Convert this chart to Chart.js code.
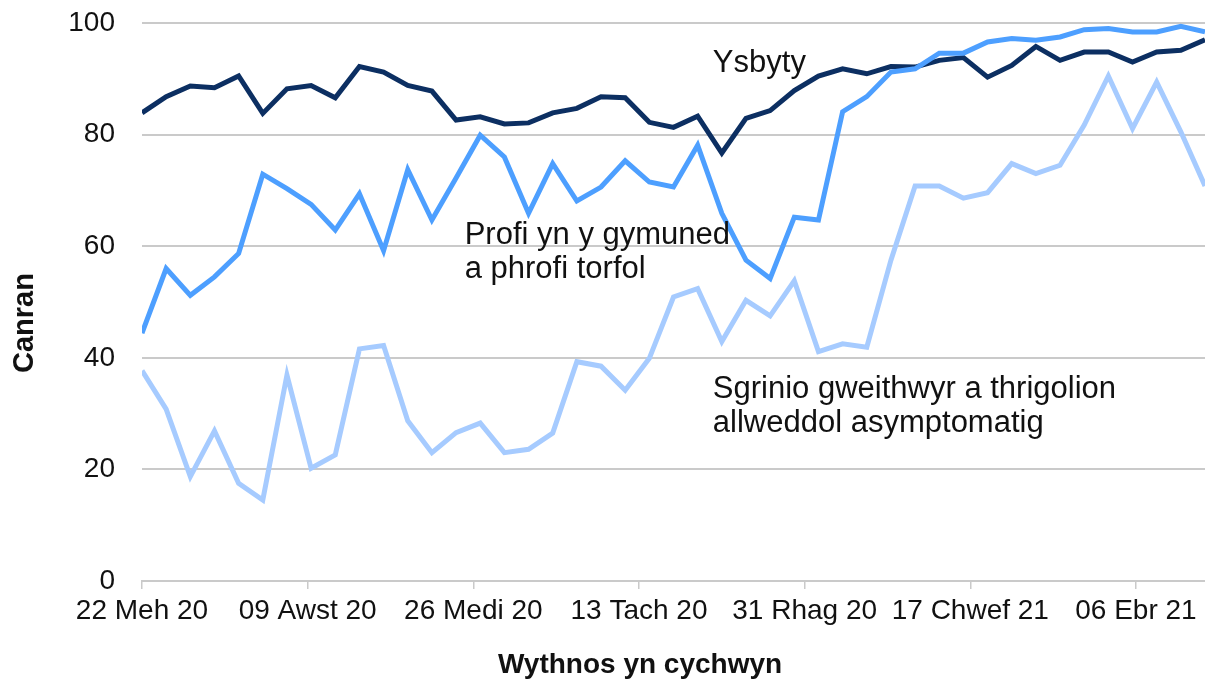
<!DOCTYPE html>
<html>
<head>
<meta charset="utf-8">
<title>Canran</title>
<script src="https://cdn.jsdelivr.net/npm/chart.js@4.4.0/dist/chart.umd.min.js"></script>
<style>
  html, body { margin: 0; padding: 0; background: #fff; }
  #wrap { width: 1205px; height: 680px; position: relative; }
</style>
</head>
<body>
<div id="wrap"><canvas id="chart"></canvas></div>
<script>
// weekly points, week 0 = 22 Meh 20 (x is in days from that date)
const weekIndex = [...Array(45).keys()];

const ysbyty = [83.9, 86.8, 88.7, 88.4, 90.5, 83.8, 88.2, 88.8, 86.6, 92.2,
  91.2, 88.8, 87.8, 82.6, 83.2, 81.9, 82.1, 83.9, 84.7, 86.8,
  86.6, 82.2, 81.3, 83.3, 76.7, 82.9, 84.3, 87.9, 90.5, 91.8,
  90.9, 92.2, 92.1, 93.3, 93.8, 90.3, 92.4, 95.8, 93.3, 94.8,
  94.8, 93.0, 94.8, 95.1, 97.0];

const profiCymuned = [44.4, 56.0, 51.2, 54.5, 58.7, 72.9, 70.3, 67.5, 62.9, 69.4,
  59.2, 73.7, 64.7, 72.2, 79.9, 76.0, 65.9, 74.8, 68.1, 70.6,
  75.3, 71.5, 70.6, 78.1, 65.9, 57.5, 54.2, 65.2, 64.7, 84.1,
  86.8, 91.2, 91.8, 94.6, 94.6, 96.6, 97.2, 96.9, 97.5, 98.8,
  99.0, 98.4, 98.4, 99.4, 98.4];

const sgrinio = [37.7, 30.8, 18.7, 26.9, 17.5, 14.5, 36.9, 20.2, 22.6, 41.6,
  42.2, 28.7, 23.0, 26.6, 28.3, 23.0, 23.6, 26.5, 39.3, 38.5,
  34.2, 39.9, 50.9, 52.4, 42.9, 50.3, 47.5, 53.8, 41.1, 42.5,
  41.9, 57.5, 70.8, 70.8, 68.6, 69.6, 74.8, 73.0, 74.5, 81.7,
  90.5, 81.1, 89.4, 80.5, 70.8];

const tickDays = [0, 48, 96, 144, 192, 240, 288];
const tickLabels = ['22 Meh 20', '09 Awst 20', '26 Medi 20', '13 Tach 20',
  '31 Rhag 20', '17 Chwef 21', '06 Ebr 21'];

const yTicks = [0, 20, 40, 60, 80, 100];

const toPoints = vals => vals.map((v, i) => ({ x: weekIndex[i] * 7, y: v }));

const FONT = "'Liberation Sans', Arial, sans-serif";
const GRID = '#cacaca';
const INK = '#111111';

// text labels beside the lines, anchored in data units
const notes = [
  { lines: ['Ysbyty'], day: 165.4, val: 91.2 },
  { lines: ['Profi yn y gymuned', 'a phrofi torfol'], day: 93.5, val: 60.4 },
  { lines: ['Sgrinio gweithwyr a thrigolion', 'allweddol asymptomatig'], day: 165.4, val: 32.8 }
];

const textPlugin = {
  id: 'textPlugin',
  afterDraw(chart) {
    const { ctx, scales } = chart;
    ctx.save();
    ctx.fillStyle = INK;
    ctx.font = '31px ' + FONT;
    ctx.textAlign = 'left';
    ctx.textBaseline = 'alphabetic';
    notes.forEach(n => {
      const x = scales.x.getPixelForValue(n.day);
      const y = scales.y.getPixelForValue(n.val);
      n.lines.forEach((t, k) => ctx.fillText(t, x, y + k * 34.5));
    });

    // axis titles
    ctx.font = 'bold 28px ' + FONT;
    ctx.textAlign = 'center';
    ctx.textBaseline = 'middle';
    ctx.fillText('Wythnos yn cychwyn', 640, 665);
    ctx.translate(25, 323);
    ctx.rotate(-Math.PI / 2);
    ctx.font = 'bold 29px ' + FONT;
    ctx.fillText('Canran', 0, 0);
    ctx.restore();
  }
};

new Chart(document.getElementById('chart'), {
  type: 'line',
  data: {
    datasets: [
      { label: 'Profi yn y gymuned a phrofi torfol', data: toPoints(profiCymuned), borderColor: '#4d9fff' },
      { label: 'Ysbyty', data: toPoints(ysbyty), borderColor: '#0c2f62' },
      { label: 'Sgrinio gweithwyr a thrigolion allweddol asymptomatig', data: toPoints(sgrinio), borderColor: '#a6cbff' }
    ]
  },
  options: {
    responsive: true,
    maintainAspectRatio: false,
    animation: false,
    layout: { padding: { top: 23, right: 0, left: 0, bottom: 0 } },
    elements: {
      line: { borderWidth: 5, tension: 0, fill: false },
      point: { radius: 0, hoverRadius: 0 }
    },
    plugins: {
      legend: { display: false },
      tooltip: { enabled: false }
    },
    scales: {
      x: {
        type: 'linear',
        min: 0,
        max: 308,
        afterBuildTicks: scale => { scale.ticks = tickDays.map(v => ({ value: v })); },
        afterFit: scale => { scale.height = 99; },
        ticks: {
          autoSkip: false,
          maxRotation: 0,
          padding: 5,
          color: INK,
          font: { family: FONT, size: 28 },
          callback: v => tickLabels[tickDays.indexOf(v)]
        },
        grid: { drawOnChartArea: false, drawTicks: true, tickLength: 8, color: GRID, lineWidth: 1.5 },
        border: { display: true, color: GRID, width: 2 }
      },
      y: {
        min: 0,
        max: 100,
        afterBuildTicks: scale => { scale.ticks = yTicks.map(v => ({ value: v })); },
        afterFit: scale => {
          scale.width = 142;
          // label padding would otherwise push the plot top down
          scale.paddingTop = 0;
          scale.paddingBottom = 0;
        },
        ticks: {
          padding: 27,
          color: INK,
          font: { family: FONT, size: 28 }
        },
        grid: { drawTicks: false, color: GRID, lineWidth: 2 },
        border: { display: false }
      }
    }
  },
  plugins: [textPlugin]
});
</script>
</body>
</html>
